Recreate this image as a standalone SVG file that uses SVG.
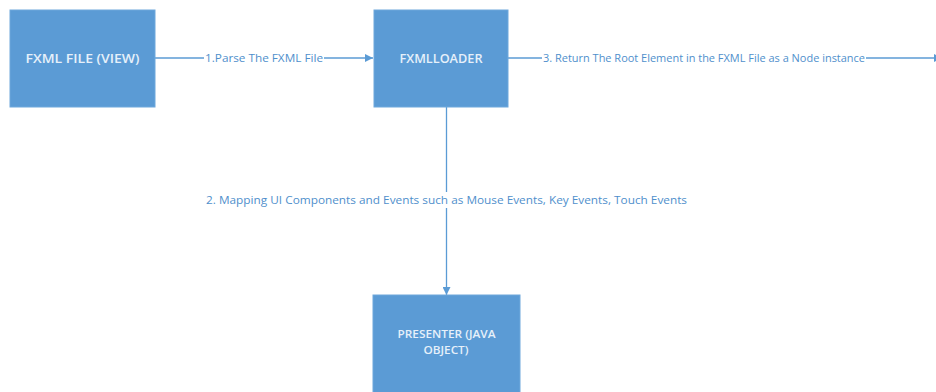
<svg xmlns="http://www.w3.org/2000/svg" width="936" height="392" viewBox="0 0 936 392">
  <style>
    .box { fill: #5B9BD5; stroke: #6FA8DC; stroke-width: 1; }
    .boxText { fill: #E6F0FA; font-family: "Open Sans", "Liberation Sans", sans-serif; font-weight: 600; text-anchor: middle; }
    .edge { stroke: #5B9BD5; stroke-width: 1.3; fill: none; }
    .edgeLabel { fill: #4F8FCC; font-family: "Open Sans", "Liberation Sans", sans-serif; font-size: 11px; }
    .labelBg { fill: #FFFFFF; }
  </style>
  <defs>
    <marker id="arrow" viewBox="0 0 10 10" refX="10" refY="5" markerWidth="8" markerHeight="8" markerUnits="userSpaceOnUse" orient="auto">
      <path d="M0,0 L10,5 L0,10 z" fill="#5B9BD5"/>
    </marker>
  </defs>
  <rect width="936" height="392" fill="#FFFFFF"/>

  <g id="connectors">
    <line class="edge" x1="155" y1="58" x2="373" y2="58" marker-end="url(#arrow)"/>
    <line class="edge" x1="508" y1="58" x2="942" y2="58" marker-end="url(#arrow)"/>
    <line class="edge" x1="446.5" y1="107" x2="446.5" y2="295" marker-end="url(#arrow)"/>
    <rect class="labelBg" x="204" y="50" width="120" height="16"/>
    <text class="edgeLabel" x="205" y="62" textLength="118" lengthAdjust="spacingAndGlyphs">1.Parse The FXML File</text>
    <rect class="labelBg" x="542" y="50" width="324" height="16"/>
    <text class="edgeLabel" x="543" y="62" textLength="322" lengthAdjust="spacingAndGlyphs">3. Return The Root Element in the FXML File as a Node instance</text>
    <rect class="labelBg" x="204" y="192" width="486" height="16"/>
    <text class="edgeLabel" x="206" y="204" textLength="481" lengthAdjust="spacingAndGlyphs">2. Mapping UI Components and Events such as Mouse Events, Key Events, Touch Events</text>
  </g>

  <g id="fxml-file">
    <rect class="box" x="10" y="10" width="145" height="97"/>
    <text class="boxText" x="82.5" y="63" font-size="13" textLength="114" lengthAdjust="spacingAndGlyphs">FXML FILE (VIEW)</text>
  </g>

  <g id="fxml-loader">
    <rect class="box" x="374" y="10" width="134" height="97"/>
    <text class="boxText" x="441" y="63" font-size="13" textLength="83" lengthAdjust="spacingAndGlyphs">FXMLLOADER</text>
  </g>

  <g id="presenter">
    <rect class="box" x="373" y="295" width="147" height="100"/>
    <text class="boxText" x="446.5" y="338" font-size="10" textLength="98" lengthAdjust="spacingAndGlyphs">PRESENTER (JAVA</text>
    <text class="boxText" x="446" y="354" font-size="10" textLength="45" lengthAdjust="spacingAndGlyphs">OBJECT)</text>
  </g>
</svg>
